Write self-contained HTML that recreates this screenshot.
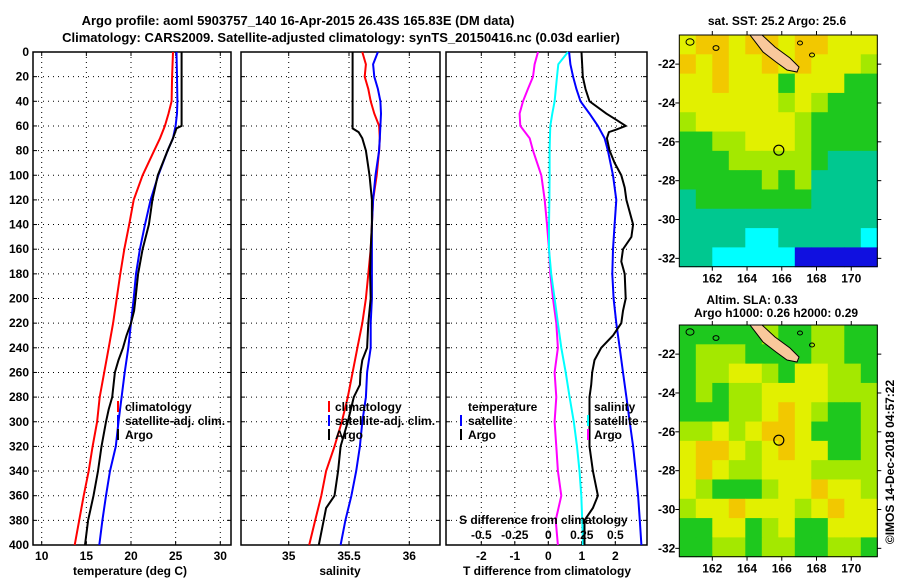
<!DOCTYPE html>
<html><head><meta charset="utf-8"><style>
body{margin:0;background:#fff;width:900px;height:580px;overflow:hidden}
svg text{font-family:"Liberation Sans",sans-serif;font-weight:bold;fill:#000}
</style></head><body>
<svg id="c" width="900" height="580" viewBox="0 0 900 580" xmlns="http://www.w3.org/2000/svg">
<text x="298" y="25" font-size="13" text-anchor="middle">Argo profile: aoml 5903757_140 16-Apr-2015 26.43S 165.83E (DM data)</text>
<text x="341" y="42" font-size="13" text-anchor="middle">Climatology: CARS2009. Satellite-adjusted climatology: synTS_20150416.nc (0.03d earlier)</text>
<g id="g"></g>
</svg>
<script>
const depthTicks=[0,20,40,60,80,100,120,140,160,180,200,220,240,260,280,300,320,340,360,380,400];
const tTicks=[10,15,20,25,30];
const sTicks=[35,35.5,36];
const tdTicks=[-2,-1,0,1,2];
const sdTicks=[-0.5,-0.25,0,0.25,0.5];
const sdTickLabels=["-0.5","-0.25","0","0.25","0.5"];

const tDepth=[0,20,40,50,60,70,80,100,120,140,160,180,200,220,240,260,280,300,320,340,360,380,400];
const tClim=[24.7,24.6,24.55,24.2,23.8,23.25,22.6,21.3,20.3,19.8,19.25,18.8,18.4,18.0,17.5,17.0,16.5,16.2,15.7,15.26,14.7,14.2,13.7];
const tSat=[25.1,25.15,25.2,25.15,25.0,24.7,24.1,23.06,22.2,21.57,21.0,20.56,20.3,20.0,19.7,19.3,18.95,18.6,18.3,17.65,17.2,16.8,16.45];
const tArgoDepth=[0,60,62,70,80,100,120,140,160,180,200,210,220,230,240,250,260,280,290,300,320,340,360,370,380,400];
const tArgo=[25.67,25.67,25.1,24.7,24.1,23.0,22.4,22.0,21.3,20.8,20.5,20.35,20.0,19.5,19.1,18.6,18.2,17.9,17.5,17.2,16.7,16.3,15.8,15.5,15.2,14.85];

const sDepth=[0,10,20,30,40,50,60,70,80,100,120,140,160,180,200,220,240,260,280,300,320,340,360,380,400];
const sClim=[35.61,35.64,35.63,35.66,35.68,35.71,35.75,35.755,35.75,35.73,35.70,35.69,35.68,35.66,35.64,35.61,35.57,35.53,35.49,35.44,35.38,35.31,35.27,35.22,35.17];
const sSat=[35.74,35.70,35.71,35.74,35.76,35.765,35.76,35.755,35.75,35.72,35.70,35.69,35.69,35.69,35.69,35.68,35.68,35.65,35.64,35.61,35.59,35.56,35.52,35.47,35.43];
const sArgoDepth=[0,62,65,70,80,100,120,140,160,180,200,220,240,250,260,270,280,300,320,340,360,370,380,400];
const sArgo=[35.53,35.53,35.58,35.61,35.64,35.67,35.69,35.69,35.68,35.675,35.68,35.66,35.65,35.61,35.595,35.59,35.54,35.49,35.43,35.41,35.38,35.31,35.29,35.25];

const dDepth=[0,10,20,30,40,50,60,70,80,100,120,140,160,180,200,220,240,260,280,300,320,340,360,380,400];
const tdSat=[0.62,0.66,0.74,0.84,0.96,1.23,1.48,1.68,1.78,1.93,2.03,1.98,1.93,1.91,1.95,2.03,2.13,2.23,2.33,2.43,2.53,2.61,2.68,2.73,2.78];
const sdSat=[0.147,0.075,0.065,0.056,0.047,0.03,0.015,0.012,0.01,0.01,0.008,0.005,0.005,0.022,0.047,0.072,0.097,0.13,0.159,0.19,0.214,0.233,0.246,0.253,0.259];
const sdArgo=[-0.077,-0.102,-0.114,-0.152,-0.189,-0.214,-0.209,-0.139,-0.114,-0.052,-0.027,-0.010,0.005,0.015,0.035,0.06,0.072,0.047,0.06,0.047,0.06,0.072,0.097,0.055,0.072];
const tdArgoDepth=[0,20,30,40,50,55,60,63,65,70,80,90,100,110,120,140,150,160,170,180,200,210,220,230,240,250,260,270,280,300,320,340,360,370,380,400];
const tdArgo=[0.99,1.03,1.11,1.23,1.73,2.03,2.31,2.03,1.81,1.75,1.83,1.98,2.18,2.28,2.33,2.53,2.48,2.23,2.18,2.28,2.31,2.23,2.18,1.93,1.58,1.38,1.31,1.28,1.23,1.23,1.23,1.33,1.48,1.33,1.08,1.08];

const sstRows=["YOOYOOYOOYYY","OYOYYOYOYYYL","YYOYYYGYYYGG","YYYYYYLYLGGG","LYYYYYYLGGGG","GGLLYYYLGGGG","GGGLLLLLGTTT","GGGGGLGLTTTT","TGGGGGGGTTTT","TTTTTTTTTTTT","TTTTCCTTTTTC","TTCCCCCBBBBB"];
const slaRows=["GGGGGLGGLLGG","GLLLGGGGLLGG","GLLYYLGYYLLG","GLGLLYYYYLLL","GGGLLYOYLGGL","LLYLYOOYGGGL","YOOYLYOYYGGL","YOYLLYYYLLLL","YLGGGLYYOYYL","LYYOYYYLYOYY","GGYYGLYGGYYY","GGLLGLLGGLLG"];
const lonTicks=[162,164,166,168,170];
const latTicks=[-22,-24,-26,-28,-30,-32];
const argoLon=165.83, argoLat=-26.43;

const NS="http://www.w3.org/2000/svg";
const G=document.getElementById('g');
function mk(tag,attrs,parent){const e=document.createElementNS(NS,tag);for(const k in attrs)e.setAttribute(k,attrs[k]);(parent||G).appendChild(e);return e;}
function txt(s,x,y,size,anchor,name){const e=mk('text',{x:x,y:y,'font-size':size,'text-anchor':anchor||'start'});e.textContent=s;


return e;}
const yD=d=>52+d*1.2325;
const TOP=52,BOT=545;

function panel(x0,x1,xs,ticks,name,leftLabels){
  const g=mk('g',{});
  
  
  depthTicks.forEach(d=>{const y=yD(d);
    if(d>0&&d<400)mk('line',{x1:x0,x2:x1,y1:y,y2:y,stroke:'#000','stroke-width':1,'stroke-dasharray':'1,4'},g);
    mk('line',{x1:x0,x2:x0+4,y1:y,y2:y,stroke:'#000'},g);
    mk('line',{x1:x1-4,x2:x1,y1:y,y2:y,stroke:'#000'},g);
    if(leftLabels)txt(String(d),29,y+4,12,'end','depth-tick-label');
  });
  ticks.forEach(v=>{const x=xs(v);
    mk('line',{x1:x,x2:x,y1:TOP,y2:BOT,stroke:'#000','stroke-width':1,'stroke-dasharray':'1,4'},g);
    mk('line',{x1:x,x2:x,y1:BOT-4,y2:BOT,stroke:'#000'},g);
    mk('line',{x1:x,x2:x,y1:TOP,y2:TOP+4,stroke:'#000'},g);
  });
  const r=mk('rect',{x:x0,y:TOP,width:x1-x0,height:BOT-TOP,fill:'none',stroke:'#000','stroke-width':1.5},g);
  
  
  return g;
}
function line(g,vals,deps,xs,color,name){
  const pts=vals.map((v,i)=>xs(v).toFixed(1)+','+yD(deps[i]).toFixed(1)).join(' ');
  const p=mk('polyline',{points:pts,fill:'none',stroke:color,'stroke-width':2},g);
  
  
}
function legend(items,bx,tx,y0,name){
  items.forEach((it,i)=>{const y=y0+i*14;
    if(it[1]){const b=mk('rect',{x:bx,y:y-10,width:2,height:11,fill:it[1]});
      
      }
    txt(it[0],tx,y,12,'start',name+'-label');
  });
}

const xT=t=>41.7+(t-10)*8.93;
const p1=panel(33,231,xT,tTicks,'temperature-panel',true);
line(p1,tClim,tDepth,xT,'#ff0000','temperature-climatology-line');
line(p1,tSat,tDepth,xT,'#0000ff','temperature-satellite-line');
line(p1,tArgo,tArgoDepth,xT,'#000','temperature-argo-line');
tTicks.forEach(v=>txt(String(v),xT(v),560,12,'middle','temperature-tick-label'));
txt('temperature (deg C)',130,575,12,'middle','temperature-axis-title');
legend([['climatology','#ff0000'],['satellite-adj. clim.','#0000ff'],['Argo','#000']],117,125,411,'temperature-legend');

const xS=s=>288.7+(s-35)*120.6;
const p2=panel(241,440,xS,sTicks,'salinity-panel',false);
line(p2,sClim,sDepth,xS,'#ff0000','salinity-climatology-line');
line(p2,sSat,sDepth,xS,'#0000ff','salinity-satellite-line');
line(p2,sArgo,sArgoDepth,xS,'#000','salinity-argo-line');
sTicks.forEach(v=>txt(String(v),xS(v),560,12,'middle','salinity-tick-label'));
txt('salinity',340,575,12,'middle','salinity-axis-title');
legend([['climatology','#ff0000'],['satellite-adj. clim.','#0000ff'],['Argo','#000']],328,335,411,'salinity-legend');

const xTd=v=>548.3+v*33.5, xSd=s=>548.3+s*134;
const p3=panel(446,647,xTd,tdTicks,'difference-panel',false);
line(p3,sdArgo,dDepth,xSd,'#ff00ff','salinity-diff-argo-line');
line(p3,sdSat,dDepth,xSd,'#00ffff','salinity-diff-satellite-line');
line(p3,tdSat,dDepth,xTd,'#0000ff','temperature-diff-satellite-line');
line(p3,tdArgo,tdArgoDepth,xTd,'#000','temperature-diff-argo-line');
tdTicks.forEach(v=>txt(String(v),xTd(v),560,12,'middle','tdiff-tick-label'));
txt('T difference from climatology',547,575,12,'middle','tdiff-axis-title');
txt('S difference from climatology',459,524,12,'start','sdiff-axis-title');
sdTicks.forEach((v,i)=>txt(sdTickLabels[i],xSd(v),539,12,'middle','sdiff-tick-label'));
legend([['temperature',null],['satellite','#0000ff'],['Argo','#000']],460,468,411,'tdiff-legend');
legend([['salinity',null],['satellite','#00ffff'],['Argo','#ff00ff']],587,594,411,'sdiff-legend');

const colors={O:'#f2c800',Y:'#e2f000',L:'#a4e800',G:'#1ec81e',T:'#00c890',C:'#00ffff',B:'#1010e0'};
const MX0=679.3,MX1=877.3,LON0=160.1,LON1=171.5,LAT0=-20.5,LAT1=-32.43;
function map(rows,top,h,name){
  const g=mk('g',{});
  
  
  const xl=lon=>MX0+(lon-LON0)/(LON1-LON0)*(MX1-MX0);
  const yl=lat=>top+(lat-LAT0)/(LAT1-LAT0)*h;
  const nr=rows.length,nc=rows[0].length,cw=(MX1-MX0)/nc,ch=h/nr;
  rows.forEach((r,i)=>{[...r].forEach((c,j)=>{
    const cell=mk('rect',{x:MX0+j*cw,y:top+i*ch,width:cw+0.5,height:ch+0.5,fill:colors[c]},g);
    
    
  });});
  const dy=top-35;
  const isl=mk('polygon',{points:[[750,35],[762,35],[775,47],[790,58],[799,67],[797,72],[787,70],[776,62],[763,52]].map(p=>p[0]+','+(p[1]+dy)).join(' '),fill:'#f9c89b',stroke:'#000','stroke-width':1},g);
  
  
  [[716,48,3],[800,43,2.5],[812,55,2.5],[690,42,4]].forEach(p=>{const c=mk('ellipse',{cx:p[0],cy:p[1]+dy,rx:p[2],ry:p[2]*0.8,fill:'none',stroke:'#000'},g);
    
    });
  const ac=mk('circle',{cx:xl(argoLon),cy:yl(argoLat),r:5,fill:'none',stroke:'#000','stroke-width':1.2},g);
  
  
  const fr=mk('rect',{x:MX0,y:top,width:MX1-MX0,height:h,fill:'none',stroke:'#000','stroke-width':1},g);
  
  
  lonTicks.forEach(l=>{const x=xl(l);mk('line',{x1:x,x2:x,y1:top-4,y2:top,stroke:'#000'},g);mk('line',{x1:x,x2:x,y1:top+h,y2:top+h+4,stroke:'#000'},g);
    txt(String(l),x,top+h+16,12,'middle','longitude-tick-label');});
  latTicks.forEach(l=>{const y=yl(l);mk('line',{x1:MX1,x2:MX1+4,y1:y,y2:y,stroke:'#000'},g);mk('line',{x1:MX0-4,x2:MX0,y1:y,y2:y,stroke:'#000'},g);
    txt(String(l),MX0-4,y+4,12,'end','latitude-tick-label');});
}
map(sstRows,35,231.7,'sst-map');
map(slaRows,325,231.7,'sla-map');
txt('sat. SST: 25.2 Argo: 25.6',777,25,12,'middle','sst-map-title');
txt('Altim. SLA: 0.33',752,304,12,'middle','sla-map-title');
txt('Argo h1000: 0.26 h2000: 0.29',776,317,12,'middle','steric-height-title');
const cr=txt('©IMOS 14-Dec-2018 04:57:22',0,0,12,'middle','copyright-stamp');
cr.setAttribute('font-weight','normal');
cr.setAttribute('transform','translate(894,462) rotate(-90)');
</script>
</body></html>
